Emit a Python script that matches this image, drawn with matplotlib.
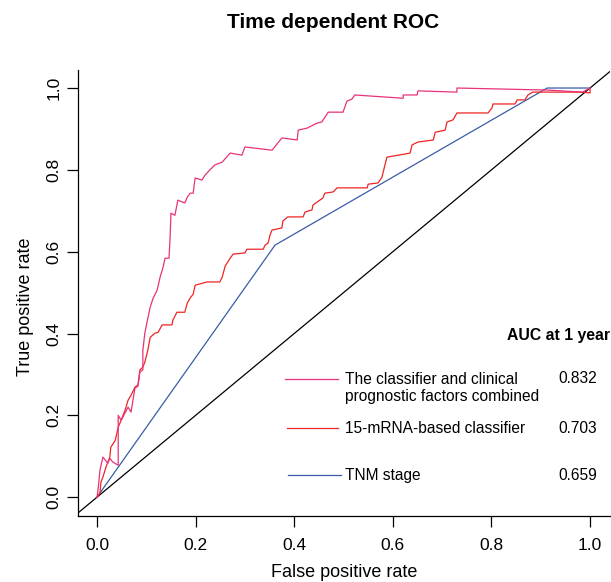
import numpy as np
import matplotlib
matplotlib.use("Agg")
import matplotlib.pyplot as plt

plt.rcParams['font.family'] = ['Liberation Sans', 'DejaVu Sans']

# combined classifier + clinical factors (AUC 0.832)
comb_fpr = [0.000, 0.002, 0.006, 0.012, 0.022, 0.026, 0.032, 0.043, 0.043, 0.049, 0.063,
            0.069, 0.077, 0.083, 0.087, 0.093, 0.093, 0.097, 0.101, 0.108, 0.114, 0.122,
            0.128, 0.134, 0.138, 0.146, 0.148, 0.150, 0.158, 0.164, 0.178, 0.183, 0.189,
            0.195, 0.199, 0.213, 0.219, 0.229, 0.239, 0.254, 0.270, 0.294, 0.300, 0.355,
            0.375, 0.406, 0.408, 0.426, 0.446, 0.456, 0.469, 0.499, 0.507, 0.517, 0.523,
            0.621, 0.621, 0.649, 0.651, 0.730, 0.730, 0.913, 0.985, 1.000]
comb_tpr = [0.000, 0.017, 0.066, 0.098, 0.083, 0.095, 0.086, 0.078, 0.200, 0.188, 0.220,
            0.208, 0.267, 0.271, 0.306, 0.311, 0.359, 0.401, 0.425, 0.465, 0.487, 0.506,
            0.538, 0.562, 0.584, 0.584, 0.628, 0.694, 0.689, 0.726, 0.719, 0.733, 0.743,
            0.743, 0.780, 0.775, 0.787, 0.800, 0.812, 0.819, 0.841, 0.836, 0.856, 0.848,
            0.878, 0.873, 0.897, 0.902, 0.914, 0.917, 0.941, 0.941, 0.968, 0.973, 0.983,
            0.975, 0.983, 0.983, 0.993, 0.990, 1.000, 0.995, 0.990, 1.000]

# 15-mRNA-based classifier (AUC 0.703)
mrna_fpr = [0.000, 0.006, 0.008, 0.012, 0.018, 0.026, 0.028, 0.037, 0.043, 0.049, 0.057,
            0.063, 0.069, 0.077, 0.083, 0.087, 0.093, 0.097, 0.103, 0.108, 0.118, 0.124,
            0.132, 0.152, 0.154, 0.162, 0.178, 0.183, 0.189, 0.195, 0.199, 0.223, 0.249,
            0.254, 0.260, 0.270, 0.276, 0.300, 0.304, 0.337, 0.341, 0.347, 0.351, 0.355,
            0.375, 0.377, 0.387, 0.418, 0.422, 0.436, 0.438, 0.446, 0.458, 0.462, 0.479,
            0.487, 0.548, 0.550, 0.570, 0.578, 0.584, 0.588, 0.635, 0.639, 0.651, 0.682,
            0.686, 0.706, 0.710, 0.722, 0.730, 0.793, 0.801, 0.803, 0.848, 0.852, 0.868,
            0.874, 0.884, 0.980, 1.000, 1.000]
mrna_tpr = [0.000, 0.010, 0.037, 0.049, 0.073, 0.098, 0.122, 0.139, 0.171, 0.188, 0.213,
            0.237, 0.249, 0.269, 0.274, 0.311, 0.318, 0.330, 0.359, 0.391, 0.401, 0.403,
            0.421, 0.421, 0.433, 0.452, 0.452, 0.474, 0.487, 0.496, 0.518, 0.526, 0.526,
            0.538, 0.565, 0.584, 0.594, 0.597, 0.606, 0.606, 0.616, 0.621, 0.641, 0.653,
            0.658, 0.675, 0.685, 0.685, 0.697, 0.702, 0.714, 0.721, 0.731, 0.743, 0.746,
            0.756, 0.756, 0.765, 0.768, 0.782, 0.812, 0.831, 0.841, 0.861, 0.868, 0.873,
            0.892, 0.897, 0.917, 0.922, 0.939, 0.939, 0.951, 0.961, 0.961, 0.971, 0.971,
            0.983, 0.990, 0.990, 0.988, 1.000]

# TNM stage (AUC 0.659)
tnm_fpr = [0.0, 0.361, 0.913, 1.0]
tnm_tpr = [0.0, 0.616, 1.0, 1.0]

labels = ["The classifier and clinical\nprognostic factors combined",
          "15-mRNA-based classifier", "TNM stage"]
aucs = ["0.832", "0.703", "0.659"]
colors = ["#e8327a", "#ee2424", "#3a5ca8"]

fig = plt.figure(figsize=(6.11, 5.82), dpi=100)
ax = fig.add_axes([0.1277, 0.1134, 0.8703, 0.7663])

ax.axline((0, 0), (1, 1), color="black", lw=0.9)
ax.plot(tnm_fpr, tnm_tpr, color=colors[2], lw=0.9)
ax.plot(mrna_fpr, mrna_tpr, color=colors[1], lw=0.9)
ax.plot(comb_fpr, comb_tpr, color=colors[0], lw=0.9)

ax.set_xlim(-0.0385, 1.04)
ax.set_ylim(-0.046, 1.044)
ticks = np.arange(0, 1.01, 0.2)
ax.set_xticks(ticks)
ax.set_yticks(ticks)
ax.set_xticklabels(["%.1f" % t for t in ticks])
ax.set_yticklabels(["%.1f" % t for t in ticks], rotation=90, va="center")
ax.tick_params(labelsize=12.5, length=8, width=0.9)
ax.tick_params(axis="x", pad=8)
ax.tick_params(axis="y", pad=4)
for s in ["top", "right"]:
    ax.spines[s].set_visible(False)
for s in ["left", "bottom"]:
    ax.spines[s].set_linewidth(0.9)

ax.set_xlabel("False positive rate", fontsize=13)
ax.set_ylabel("True positive rate", fontsize=13)
ax.xaxis.set_label_coords(0.5, -0.107)
ax.yaxis.set_label_coords(-0.0825, 0.47)
fig.text(0.545, 0.9605, "Time dependent ROC", ha="center", va="center",
         fontsize=15, fontweight="bold")

# manual legend
ax.text(1.04, 0.394, "AUC at 1 year", ha="right", va="center", fontsize=11.3,
        fontweight="bold")
leg_y = [0.267, 0.169, 0.054]
line_y = [0.289, 0.169, 0.054]
line_x = [(0.381, 0.489), (0.385, 0.489), (0.387, 0.495)]
for i in range(3):
    ax.plot(line_x[i], [line_y[i], line_y[i]], color=colors[i], lw=0.9, clip_on=False)
    ax.text(0.503, leg_y[i], labels[i], ha="left", va="center", fontsize=11.2,
            linespacing=1.1)
    ax.text(0.935, line_y[i], aucs[i], ha="left", va="center", fontsize=11.2)

fig.savefig("out.png", dpi=100)
